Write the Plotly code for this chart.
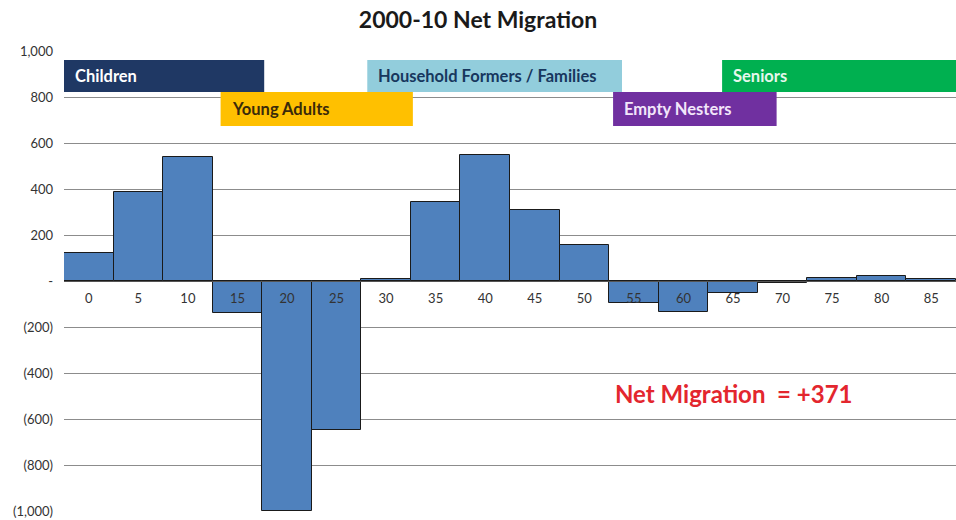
import plotly.graph_objects as go

ages = [0, 5, 10, 15, 20, 25, 30, 35, 40, 45, 50, 55, 60, 65, 70, 75, 80, 85]
net_migration = [122, 387, 540, -139, -1000, -648, 8, 343, 550, 309, 157, -94, -133, -52, -7, 14, 21, 8]

y_tickvals = [1000, 800, 600, 400, 200, 0, -200, -400, -600, -800, -1000]
y_ticktext = ["1,000", "800", "600", "400", "200", "-", "(200)", "(400)", "(600)", "(800)", "(1,000)"]

groups = ["Children", "Young Adults", "Household Formers / Families", "Empty Nesters", "Seniors"]
group_x0 = [-2.5, 13.3, 28.1, 52.9, 63.9]
group_x1 = [17.7, 32.7, 53.8, 69.4, 87.5]
group_row = [0, 1, 0, 1, 0]
group_fill = ["#1F3864", "#FFC000", "#92CDDC", "#7030A0", "#00B050"]
group_text = ["#FFFFFF", "#3A2A0A", "#17375E", "#F2E6FA", "#E6F7EC"]

total_label = "Net Migration  = +371"

fig = go.Figure()
fig.add_trace(go.Bar(
    x=ages, y=net_migration, width=5,
    marker=dict(color="#4F81BD", line=dict(color="#1A1A1A", width=1)),
    showlegend=False,
))

row_y = [(961, 822), (822, 674)]
for name, x0, x1, r, fc, tc in zip(groups, group_x0, group_x1, group_row, group_fill, group_text):
    y1, y0 = row_y[r]
    fig.add_shape(type="rect", x0=x0, x1=x1, y0=y0, y1=y1, xref="x", yref="y",
                  fillcolor=fc, line=dict(width=0), layer="above")
    fig.add_annotation(x=x0, y=(y0 + y1) / 2, xref="x", yref="y", text="<b>" + name + "</b>",
                       showarrow=False, xanchor="left", yanchor="middle", xshift=9,
                       font=dict(family="Lato, Open Sans, sans-serif", size=16.5, color=tc))

fig.add_annotation(x=52.9, y=-491, xref="x", yref="y", text="<b>" + total_label + "</b>",
                   showarrow=False, xanchor="left", yanchor="middle",
                   font=dict(family="Lato, Open Sans, sans-serif", size=24, color="#E3262E"))

fig.update_layout(
    width=956, height=520,
    margin=dict(l=64, r=0, t=51, b=9),
    paper_bgcolor="white", plot_bgcolor="white",
    title=dict(text="<b>2000-10 Net Migration</b>", x=0.5, xanchor="center", y=0.962, yanchor="middle",
               font=dict(family="Lato, Open Sans, sans-serif", size=23, color="#1A1A1A")),
    bargap=0,
    xaxis=dict(
        range=[-2.5, 87.5], tickvals=ages, ticktext=[str(a) for a in ages],
        anchor="free", position=0.5, showgrid=False, zeroline=False,
        showline=True, linecolor="#555555", linewidth=1,
        ticks="", ticklabelstandoff=5,
        tickfont=dict(family="Lato, Open Sans, sans-serif", size=13, color="#333333"),
    ),
    yaxis=dict(
        range=[-1000, 1000], tickvals=y_tickvals, ticktext=y_ticktext,
        showgrid=True, gridcolor="#8C8C8C", gridwidth=1, zeroline=False,
        showline=False, ticks="", ticklabelstandoff=10,
        tickfont=dict(family="Lato, Open Sans, sans-serif", size=13, color="#333333"),
    ),
)

fig.write_html("out.html")
